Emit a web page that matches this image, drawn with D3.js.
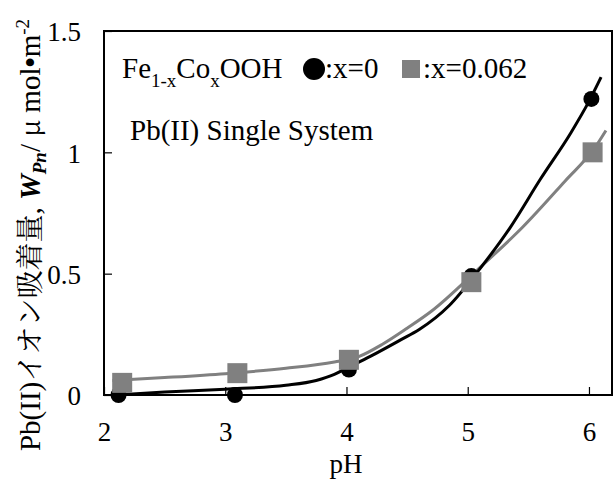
<!DOCTYPE html>
<html><head><meta charset="utf-8">
<script src="https://cdn.jsdelivr.net/npm/d3@7"></script>
</head><body style="margin:0;background:#fff"><svg id="c" width="615" height="481"></svg>
<script>
const xTicks = [2, 3, 4, 5, 6];
const yTicks = [0, 0.5, 1, 1.5];
const yTickLabels = ["0", "0.5", "1", "1.5"];
// measured points
const circlePH = [2.12, 3.08, 4.02, 5.03, 6.02];
const circleW  = [0.0, 0.0, 0.105, 0.49, 1.22];
const squarePH = [2.15, 3.10, 4.02, 5.03, 6.03];
const squareW  = [0.05, 0.09, 0.145, 0.465, 1.0];
// fitted curves
const blackCurvePH = [2.1, 2.5, 3.0, 3.5, 3.75, 3.9, 4.0, 4.2, 4.45, 4.6, 4.85, 5.1, 5.35, 5.6, 5.85, 6.0, 6.1];
const blackCurveW  = [0.0, 0.012, 0.024, 0.04, 0.06, 0.085, 0.11, 0.16, 0.228, 0.27, 0.37, 0.52, 0.69, 0.89, 1.08, 1.21, 1.31];
const grayCurvePH = [2.07, 2.5, 3.0, 3.5, 3.9, 4.1, 4.3, 4.5, 4.7, 5.1, 5.45, 5.8, 6.05, 6.14];
const grayCurveW  = [0.06, 0.072, 0.088, 0.11, 0.136, 0.158, 0.21, 0.275, 0.345, 0.525, 0.69, 0.88, 1.02, 1.09];

const SERIF = '"Liberation Serif"';
const CJK = '"Noto Serif CJK JP"';
const FS = 27;
const LFS = 29;

const svg = d3.select("#c");
const L = 104, R = 612, T = 31, B = 395;
const x = d3.scaleLinear().domain([2, 6.19]).range([L, R]);
const y = d3.scaleLinear().domain([0, 1.5]).range([B, T]);
const gray = "#808080";

// frame
svg.append("rect").attr("x", L).attr("y", T).attr("width", R - L).attr("height", B - T)
  .attr("fill", "none").attr("stroke", "#000").attr("stroke-width", 2);

// axes with inward ticks
const xa = svg.append("g").attr("transform", `translate(0,${B})`)
  .call(d3.axisBottom(x).tickValues(xTicks).tickSizeInner(-8).tickSizeOuter(0).tickFormat(d3.format("d")));
xa.attr("font-family", null);
xa.select(".domain").remove();
xa.selectAll("line").attr("stroke", "#000").attr("stroke-width", 1.2);
xa.selectAll("text").attr("y", 46).attr("dy", 0).style("font-family", SERIF).style("font-size", FS + "px").attr("fill", "#000");

const ya = svg.append("g").attr("transform", `translate(${L},0)`)
  .call(d3.axisLeft(y).tickValues(yTicks).tickSizeInner(-8).tickSizeOuter(0).tickFormat((d, i) => yTickLabels[i]));
ya.attr("font-family", null);
ya.select(".domain").remove();
ya.selectAll("line").attr("stroke", "#000").attr("stroke-width", 1.2);
ya.selectAll("text").attr("x", -23).attr("dy", "0.36em").style("font-family", SERIF).style("font-size", FS + "px").attr("fill", "#000");

// curves
const line = d3.line().x(d => x(d[0])).y(d => y(d[1])).curve(d3.curveMonotoneX);
svg.append("path").datum(grayCurvePH.map((p, i) => [p, grayCurveW[i]]))
  .attr("d", line).attr("fill", "none").attr("stroke", gray).attr("stroke-width", 3);
svg.append("path").datum(blackCurvePH.map((p, i) => [p, blackCurveW[i]]))
  .attr("d", line).attr("fill", "none").attr("stroke", "#000").attr("stroke-width", 3);

// markers
svg.selectAll("circle.pt").data(circlePH.map((p, i) => [p, circleW[i]])).enter()
  .append("circle").attr("class", "pt").attr("cx", d => x(d[0])).attr("cy", d => y(d[1])).attr("r", 8).attr("fill", "#000");
const sq = 20;
svg.selectAll("rect.pt").data(squarePH.map((p, i) => [p, squareW[i]])).enter()
  .append("rect").attr("class", "pt").attr("x", d => x(d[0]) - sq / 2).attr("y", d => y(d[1]) - sq / 2)
  .attr("width", sq).attr("height", sq).attr("fill", gray);

function txt(xp, yp, fs) {
  return svg.append("text").attr("x", xp).attr("y", yp)
    .style("font-family", SERIF).style("font-size", (fs || FS) + "px").attr("fill", "#000");
}
// legend
const lg = txt(122, 78, LFS);
lg.append("tspan").text("Fe");
lg.append("tspan").style("font-size", "19px").attr("dy", 9).text("1-x");
lg.append("tspan").attr("dy", -9).text("Co");
lg.append("tspan").style("font-size", "19px").attr("dy", 9).text("x");
lg.append("tspan").attr("dy", -9).text("OOH");
svg.append("circle").attr("cx", 314).attr("cy", 69).attr("r", 11).attr("fill", "#000");
txt(325, 78, LFS).text(":x=0");
svg.append("rect").attr("x", 402).attr("y", 60).attr("width", 18).attr("height", 18).attr("fill", gray);
txt(423, 78, LFS).text(":x=0.062");
txt(130, 140, LFS).text("Pb(II) Single System");

// axis titles
txt(346, 473).attr("text-anchor", "middle").text("pH");
const yl = svg.append("text").attr("transform", "translate(40,235) rotate(-90)")
  .attr("text-anchor", "middle").style("font-family", SERIF).style("font-size", "29px").attr("fill", "#000");
yl.append("tspan").text("Pb(II)");
yl.append("tspan").style("font-family", CJK).style("font-size", "28px").text("イオン吸着量");
yl.append("tspan").text(", ");
yl.append("tspan").style("font-style", "italic").style("font-weight", "bold").text("W");
yl.append("tspan").style("font-style", "italic").style("font-weight", "bold").style("font-size", "19px").attr("dy", 6).text("Pn");
yl.append("tspan").attr("dy", -6).text("/ ");
yl.append("tspan").style("font-family", CJK).style("font-size", "27px").text("μ");
yl.append("tspan").text(" mol");
yl.append("tspan").style("font-weight", "bold").text("•");
yl.append("tspan").text("m");
yl.append("tspan").style("font-size", "19px").attr("dy", -11).text("-2");
</script></body></html>
